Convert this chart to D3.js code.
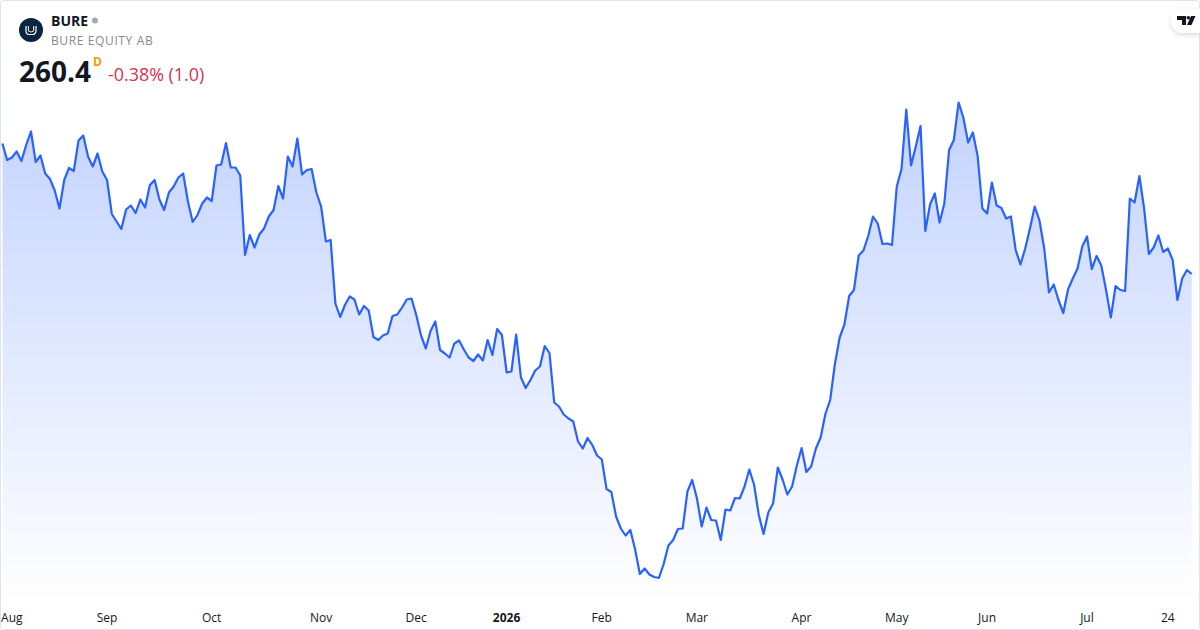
<!DOCTYPE html>
<html><head><meta charset="utf-8">
<script src="https://cdn.jsdelivr.net/npm/d3@7"></script>
<style>
html,body{margin:0;padding:0;background:#fff;width:1200px;height:630px;overflow:hidden}
text{font-family:"Open Sans",sans-serif}
</style></head><body>
<svg id="c" width="1200" height="630"></svg>
<script>
const closes = [
286.5,283.2,283.7,284.9,283.0,286.2,288.9,282.8,284.1,280.5,279.4,277.1,273.5,279.2,281.6,281.0,287.1,288.1,283.9,281.9,
284.5,280.9,279.2,272.4,270.9,269.4,273.3,274.1,272.6,275.3,273.7,278.2,279.2,275.3,273.2,276.7,277.9,279.7,280.5,274.9,
270.8,272.2,274.5,275.7,275.0,282.1,282.3,286.6,281.7,281.7,280.1,264.2,268.2,265.7,268.3,269.5,271.9,273.2,278.0,275.5,
283.9,281.9,287.5,280.3,281.2,281.4,276.7,273.9,266.9,267.2,254.5,251.8,254.2,255.9,255.3,252.3,254.0,253.1,247.8,247.2,
248.1,248.5,252.0,252.3,253.7,255.3,255.5,252.2,248.1,245.5,249.0,250.9,245.2,244.5,243.7,246.5,247.1,245.3,243.7,243.0,
244.3,243.1,247.2,244.2,249.4,248.2,240.7,240.9,248.3,239.7,237.6,239.2,241.1,241.9,246.0,244.6,234.7,233.9,232.3,231.5,
230.9,226.9,225.5,227.6,226.2,224.1,223.3,217.4,216.8,211.9,209.5,208.1,209.2,205.3,200.4,201.5,200.3,199.8,199.6,202.4,
206.1,207.2,209.4,209.5,216.9,219.2,215.5,209.9,213.7,211.2,211.1,207.2,213.3,213.1,215.6,215.5,217.9,221.3,218.3,212.2,
208.4,212.7,214.5,221.7,219.3,216.3,217.9,222.1,225.6,220.8,221.9,225.5,227.7,232.4,235.2,242.4,247.7,250.3,256.0,257.2,
264.1,265.1,268.0,271.9,270.5,266.4,266.5,266.2,277.9,281.4,293.3,282.1,285.9,290.0,269.0,274.3,276.5,270.7,274.5,285.2,
287.2,294.7,291.7,286.7,288.7,284.0,273.5,272.5,278.7,274.1,273.6,271.5,271.9,265.2,262.3,265.5,269.5,273.9,271.1,265.5,
256.7,258.3,255.2,252.6,257.3,259.5,261.5,265.9,267.9,261.4,264.0,262.1,257.2,251.7,258.0,257.2,257.0,275.5,274.7,280.0,
273.5,264.4,265.7,268.1,264.8,265.5,263.2,255.2,259.5,261.2,260.4];
const tickIndex = [2,22,44,67,87,106,126,146,168,188,207,228,245];
const tickLabels = ["Aug","Sep","Oct","Nov","Dec","2026","Feb","Mar","Apr","May","Jun","Jul","24"];
const symbol = "BURE", company = "BURE EQUITY AB", lastPrice = "260.4", interval = "D", change = "-0.38% (1.0)";

const svg = d3.select("#c");
const x = d3.scaleLinear().domain([0, closes.length-1]).range([2.4, 1191.7]);
const y = d3.scaleLinear().domain([200,300]).range([576,76]);
const baseY = 604;

const defs = svg.append("defs");
const g = defs.append("linearGradient").attr("id","fill").attr("gradientUnits","userSpaceOnUse")
  .attr("x1",0).attr("x2",0).attr("y1",y(d3.max(closes))).attr("y2",baseY);
g.append("stop").attr("offset",0).attr("stop-color","#2962FF").attr("stop-opacity",0.28);
g.append("stop").attr("offset",1).attr("stop-color","#2962FF").attr("stop-opacity",0);
const sh = defs.append("filter").attr("id","sh").attr("x","-50%").attr("y","-50%").attr("width","200%").attr("height","200%");
sh.append("feDropShadow").attr("dx",0).attr("dy",2).attr("stdDeviation",2.5).attr("flood-color","#000").attr("flood-opacity",0.14);

svg.append("path").datum(closes)
  .attr("fill","url(#fill)")
  .attr("d", d3.area().x((d,i)=>x(i)).y0(baseY).y1(d=>y(d)));
svg.append("path").datum(closes)
  .attr("fill","none").attr("stroke","#2962FF").attr("stroke-width",2.2).attr("stroke-linejoin","round")
  .attr("d", d3.line().x((d,i)=>x(i)).y(d=>y(d)));

const axis = d3.axisBottom(x).tickValues(tickIndex).tickSize(0).tickPadding(0)
  .tickFormat((d,i)=>tickLabels[i]);
const ag = svg.append("g").attr("transform","translate(-0.6,604)").call(axis);
ag.select(".domain").remove();
ag.selectAll("text").attr("fill","#131722").attr("font-size",12).attr("y",9)
  .attr("dy","0.71em").style("font-family",'"Open Sans",sans-serif')
  .attr("font-weight",(d,i)=>tickLabels[i]==="2026"?700:400);

// frame
svg.append("rect").attr("x",0.5).attr("y",0.5).attr("width",1199).attr("height",629).attr("rx",3)
  .attr("fill","none").attr("stroke","#e0e3eb");

// header
svg.append("circle").attr("cx",31).attr("cy",30).attr("r",12).attr("fill","#0a2540");
svg.append("path").attr("d","M26 26v5a3.5 3.5 0 0 0 3.5 3.5h3a3.5 3.5 0 0 0 3.5-3.5v-5").attr("fill","none").attr("stroke","#fff").attr("stroke-width",1.2);
svg.append("path").attr("d","M28.3 26v3.8a2 2 0 0 0 2 2h1.4a2 2 0 0 0 2-2v-3.8").attr("fill","none").attr("stroke","#fff").attr("stroke-width",1);
svg.append("text").attr("x",51).attr("y",26).attr("font-size",14).attr("font-weight",700).attr("fill","#131722").text(symbol);
svg.append("circle").attr("cx",95).attr("cy",20.5).attr("r",3).attr("fill","#a6a9b2");
svg.append("text").attr("x",51).attr("y",45).attr("font-size",12).attr("letter-spacing",0.62).attr("fill","#868993").text(company);
svg.append("text").attr("x",19).attr("y",82).attr("font-size",28).attr("font-weight",700).attr("fill","#131722").text(lastPrice);
svg.append("text").attr("x",93).attr("y",66).attr("font-size",12).attr("font-weight",700).attr("fill","#ff9800").text(interval);
svg.append("text").attr("x",108).attr("y",81).attr("font-size",17.9).attr("fill","#d9304f").text(change);

// logo badge
svg.append("path").attr("d","M1200 9H1183a12 12 0 0 0 0 24H1200Z").attr("fill","#fff").attr("filter","url(#sh)");
svg.append("path").attr("d","M1177 16h9v9h-4v-5h-5Z M1191 16h4.5l-4 9h-4.5Z").attr("fill","#131722");
svg.append("circle").attr("cx",1188.3).attr("cy",17.8).attr("r",1.8).attr("fill","#131722");
</script>
</body></html>
